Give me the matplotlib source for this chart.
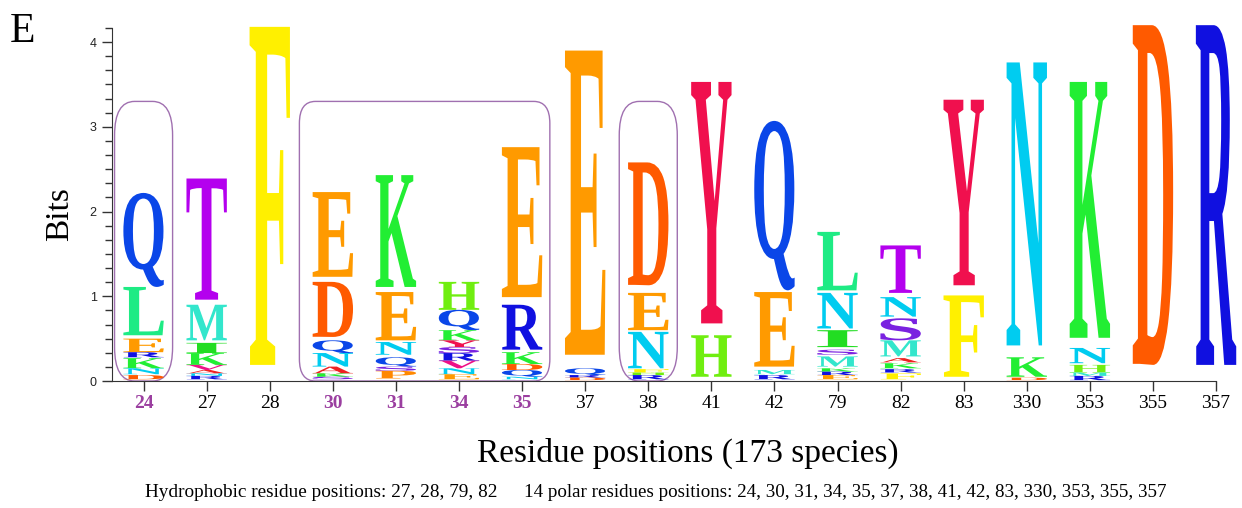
import matplotlib
matplotlib.use("Agg")
import matplotlib.pyplot as plt
from matplotlib.textpath import TextPath
from matplotlib.patches import PathPatch, FancyBboxPatch
from matplotlib.font_manager import FontProperties
from matplotlib.ticker import MultipleLocator
from matplotlib.transforms import Affine2D

# residue positions on the x axis
positions = ["24", "27", "28", "30", "31", "34", "35", "37", "38",
             "41", "42", "79", "82", "83", "330", "353", "355", "357"]
highlighted = ["24", "30", "31", "34", "35"]

# letter stacks per position: (letter, bottom bits, top bits)
p24 = [("Q", 1.11, 2.22), ("L", 0.54, 1.11), ("E", 0.34, 0.50), ("R", 0.28, 0.34),
       ("K", 0.15, 0.27), ("N", 0.08, 0.15), ("D", 0.02, 0.07)]
p27 = [("T", 0.96, 2.39), ("M", 0.48, 0.90), ("I", 0.33, 0.45), ("K", 0.19, 0.33),
       ("V", 0.13, 0.19), ("A", 0.09, 0.13), ("N", 0.06, 0.09), ("R", 0.02, 0.06)]
p28 = [("F", 0.19, 4.18)]
p30 = [("E", 1.23, 2.23), ("D", 0.52, 1.17), ("Q", 0.33, 0.48), ("N", 0.17, 0.33),
       ("A", 0.09, 0.17), ("K", 0.05, 0.09), ("S", 0.02, 0.05)]
p31 = [("K", 1.11, 2.43), ("E", 0.48, 1.05), ("N", 0.31, 0.46), ("Q", 0.17, 0.28),
       ("S", 0.12, 0.17), ("P", 0.03, 0.12)]
p34 = [("H", 0.84, 1.17), ("Q", 0.60, 0.84), ("K", 0.48, 0.60), ("Y", 0.40, 0.48),
       ("S", 0.33, 0.40), ("R", 0.24, 0.33), ("V", 0.15, 0.24), ("N", 0.08, 0.15),
       ("E", 0.02, 0.08)]
p35 = [("E", 0.99, 2.76), ("R", 0.37, 0.90), ("K", 0.20, 0.34), ("D", 0.13, 0.20),
       ("Q", 0.05, 0.13), ("N", 0.02, 0.05)]
p37 = [("E", 0.31, 3.90), ("Q", 0.07, 0.15), ("R", 0.04, 0.07), ("D", 0.01, 0.04)]
p38 = [("D", 1.13, 2.58), ("E", 0.60, 1.04), ("N", 0.15, 0.58), ("F", 0.10, 0.14),
       ("H", 0.07, 0.10), ("R", 0.02, 0.07)]
p41 = [("Y", 0.68, 3.53), ("H", 0.05, 0.54)]
p42 = [("Q", 1.07, 3.07), ("E", 0.17, 1.05), ("M", 0.08, 0.13), ("R", 0.02, 0.07)]
p79 = [("L", 1.07, 1.76), ("N", 0.62, 1.04), ("I", 0.40, 0.60), ("S", 0.31, 0.37),
       ("M", 0.17, 0.29), ("K", 0.11, 0.15), ("R", 0.07, 0.11), ("E", 0.02, 0.07)]
p82 = [("T", 1.04, 1.60), ("N", 0.76, 0.99), ("S", 0.48, 0.74), ("M", 0.29, 0.48),
       ("A", 0.22, 0.27), ("K", 0.15, 0.21), ("R", 0.10, 0.14), ("F", 0.02, 0.09)]
p83 = [("Y", 1.13, 3.32), ("F", 0.05, 1.01)]
p330 = [("N", 0.42, 3.76), ("K", 0.05, 0.28), ("D", 0.01, 0.04)]
p353 = [("K", 0.51, 3.53), ("N", 0.21, 0.39), ("H", 0.10, 0.19), ("M", 0.06, 0.10),
        ("R", 0.01, 0.06)]
p355 = [("D", 0.19, 4.20)]
p357 = [("R", 0.19, 4.20)]

stacks = [p24, p27, p28, p30, p31, p34, p35, p37, p38,
          p41, p42, p79, p82, p83, p330, p353, p355, p357]

colors = {
    "Q": "#0A46E8", "L": "#1EEB84", "E": "#FF9A00", "T": "#B400EE",
    "M": "#33E6CC", "F": "#FFF000", "D": "#FF5A00", "K": "#22EE33",
    "N": "#00CCF0", "H": "#70EE10", "R": "#1010E0", "Y": "#F0104E",
    "S": "#7A22E0", "I": "#22DD22", "A": "#EE2222", "P": "#FF8800",
    "V": "#EE1188",
}

# boxes: (first index, last index, top in bits)
boxes = [(0, 0, 3.30), (3, 6, 3.30), (8, 8, 3.30)]

serif = "Liberation Serif"
letter_font = FontProperties(family=serif, weight="bold")
letter_w = 0.64

fig = plt.figure(figsize=(12.42, 5.08), dpi=100)
ax = fig.add_axes([0.0902, 0.25, 0.8889, 0.6949])


def draw_letter(ax, ch, xc, y0, y1, color):
    tp = TextPath((0, 0), ch, size=1, prop=letter_font)
    ext = tp.get_extents()
    tr = (Affine2D()
          .translate(-ext.x0, -ext.y0)
          .scale(letter_w / ext.width, (y1 - y0) / ext.height)
          .translate(xc - letter_w / 2, y0))
    patch = PathPatch(tr.transform_path(tp), facecolor=color, edgecolor="none",
                      clip_on=False, zorder=3)
    ax.add_patch(patch)


for i, stack in enumerate(stacks):
    for ch, lo, hi in stack:
        draw_letter(ax, ch, i, lo, hi, colors.get(ch, "#888888"))

# rounded outlines (corners given in pixels, converted per axis)
px_x = 63.2
px_y = 84.75
for a, b, top in boxes:
    if a == b:
        rx, ry = 20, 34
        x0, x1 = a - 0.46, b + 0.46
    else:
        rx, ry = 16, 22
        x0, x1 = a - 0.53, b + 0.44
    rs = rx / px_x
    asp = (ry / px_y) / rs
    box = FancyBboxPatch((x0, 0), x1 - x0, top,
                         boxstyle="round,pad=0,rounding_size=%f" % rs,
                         mutation_aspect=asp, facecolor="none",
                         edgecolor="#A070B0", linewidth=1.0, zorder=2, clip_on=False)
    ax.add_patch(box)

ax.set_xlim(-0.5, len(positions) - 1)
ax.set_ylim(0, 4 + 1 / 6)
ax.spines["top"].set_visible(False)
ax.spines["right"].set_visible(False)
ax.spines["left"].set_color("#333333")
ax.spines["bottom"].set_color("#333333")

ax.set_xticks(range(len(positions)))
ax.set_xticklabels(positions, fontfamily=serif, fontsize=14)
for lab in ax.get_xticklabels():
    if lab.get_text() in highlighted:
        lab.set_color("#9B3FA0")
        lab.set_fontweight("bold")
ax.tick_params(axis="x", length=7, width=1, color="#333333", pad=3)

ax.yaxis.set_major_locator(MultipleLocator(1))
ax.yaxis.set_minor_locator(MultipleLocator(1 / 6))
ax.tick_params(axis="y", which="major", length=7, width=1, color="#333333",
               labelsize=9, labelcolor="#222222", pad=4)
ax.tick_params(axis="y", which="minor", length=5, width=1, color="#333333")
for lab in ax.get_yticklabels():
    lab.set_fontfamily("Liberation Sans")

fig.text(0.048, 0.579, "Bits", rotation=90, fontfamily=serif, fontsize=24,
         ha="center", va="center")
fig.text(0.008, 0.975, "E", fontfamily=serif, fontsize=30, ha="left", va="top")
fig.text(0.554, 0.108, "Residue positions (173 species)", fontfamily=serif,
         fontsize=24, ha="center", va="center")
fig.text(0.1167, 0.03, "Hydrophobic residue positions: 27, 28, 79, 82",
         fontfamily=serif, fontsize=13.9, ha="left", va="center")
fig.text(0.4219, 0.03,
         "14 polar residues positions: 24, 30, 31, 34, 35, 37, 38, 41, 42, 83, 330, 353, 355, 357",
         fontfamily=serif, fontsize=13.7, ha="left", va="center")

fig.savefig("out.png", dpi=100)
